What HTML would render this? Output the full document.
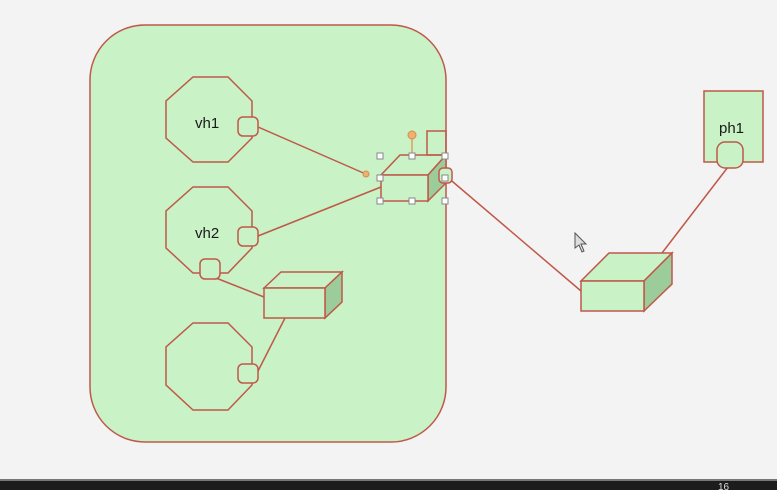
<!DOCTYPE html>
<html><head><style>
html,body{margin:0;padding:0;background:#f3f3f3;}
svg{display:block;}
text{font-family:"Liberation Sans",sans-serif;font-size:15px;fill:#1a1a1a;}
</style></head><body>
<svg width="777" height="490" viewBox="0 0 777 490" xmlns="http://www.w3.org/2000/svg">
<rect width="777" height="490" fill="#f3f3f3"/>
<g stroke="#c0584a" stroke-width="1.5" fill="#c9f2c6">
<rect x="90" y="25" width="356" height="417" rx="55" ry="55"/>
<!-- lines -->
<g fill="none">
<line x1="258" y1="127" x2="368" y2="175"/>
<line x1="258" y1="236" x2="381" y2="187"/>
<line x1="216" y1="278" x2="264" y2="297"/>
<line x1="256" y1="375" x2="285" y2="318"/>
<line x1="446" y1="176" x2="581" y2="291"/>
<line x1="662" y1="253" x2="728" y2="167"/>
</g>
<polygon points="193,77 228,77 252,101 252,138 228,162 193,162 166,138 166,101"/>
<polygon points="193,187 228,187 252,211 252,248 228,273 193,273 166,248 166,211"/>
<polygon points="193,323 228,323 252,347 252,385 228,410 193,410 166,385 166,347"/>
<rect x="238" y="117" width="20" height="19" rx="5"/>
<rect x="238" y="227" width="20" height="19" rx="5"/>
<rect x="200" y="259" width="20" height="20" rx="5"/>
<rect x="238" y="364" width="20" height="19" rx="5"/>
<!-- box2 -->
<polygon points="264,288 281,272 342,272 325,288"/>
<polygon points="325,288 342,272 342,302 325,318" fill="#9ccc9a"/>
<rect x="264" y="288" width="61" height="30"/>
<!-- switch -->
<polygon points="381,175 400,155 446,155 428,175"/>
<polygon points="428,175 446,155 446,183 428,201" fill="#9ccc9a"/>
<rect x="381" y="175" width="47" height="26"/>
<rect x="427" y="131" width="19" height="24" fill="none"/>
<rect x="439" y="168" width="13" height="15" rx="4"/>
<!-- right box -->
<polygon points="581,281 609,253 672,253 644,281"/>
<polygon points="644,281 672,253 672,284 644,311" fill="#9ccc9a"/>
<rect x="581" y="281" width="63" height="30"/>
<!-- ph1 -->
<rect x="704" y="91" width="59" height="71"/>
<rect x="717" y="142" width="26" height="26" rx="8"/>
</g>
<line x1="412" y1="136" x2="412" y2="155" stroke="#e0a060" stroke-width="1.5"/>
<circle cx="412" cy="135" r="4" fill="#f0b070" stroke="#d09050"/>
<circle cx="366" cy="174" r="3" fill="#f0b070" stroke="#d09050"/>
<g fill="#fff" stroke="#888" stroke-width="1">
<rect x="377" y="153" width="6" height="6"/><rect x="409" y="153" width="6" height="6"/><rect x="442" y="153" width="6" height="6"/>
<rect x="377" y="175" width="6" height="6"/><rect x="442" y="175" width="6" height="6"/>
<rect x="377" y="198" width="6" height="6"/><rect x="409" y="198" width="6" height="6"/><rect x="442" y="198" width="6" height="6"/>
</g>
<text x="195" y="128">vh1</text>
<text x="195" y="238">vh2</text>
<text x="719" y="133">ph1</text>
<path d="M575,233 L575,248 L579,245 L582,252 L584,251 L581,244 L586,244 Z" fill="#ddd" stroke="#555" stroke-width="1"/>
<rect x="0" y="479" width="777" height="11" fill="#1c1c1c"/>
<rect x="0" y="479" width="777" height="2" fill="#777"/>
<text x="718" y="490" style="font-size:10px;fill:#ddd">16</text>
</svg>
</body></html>
